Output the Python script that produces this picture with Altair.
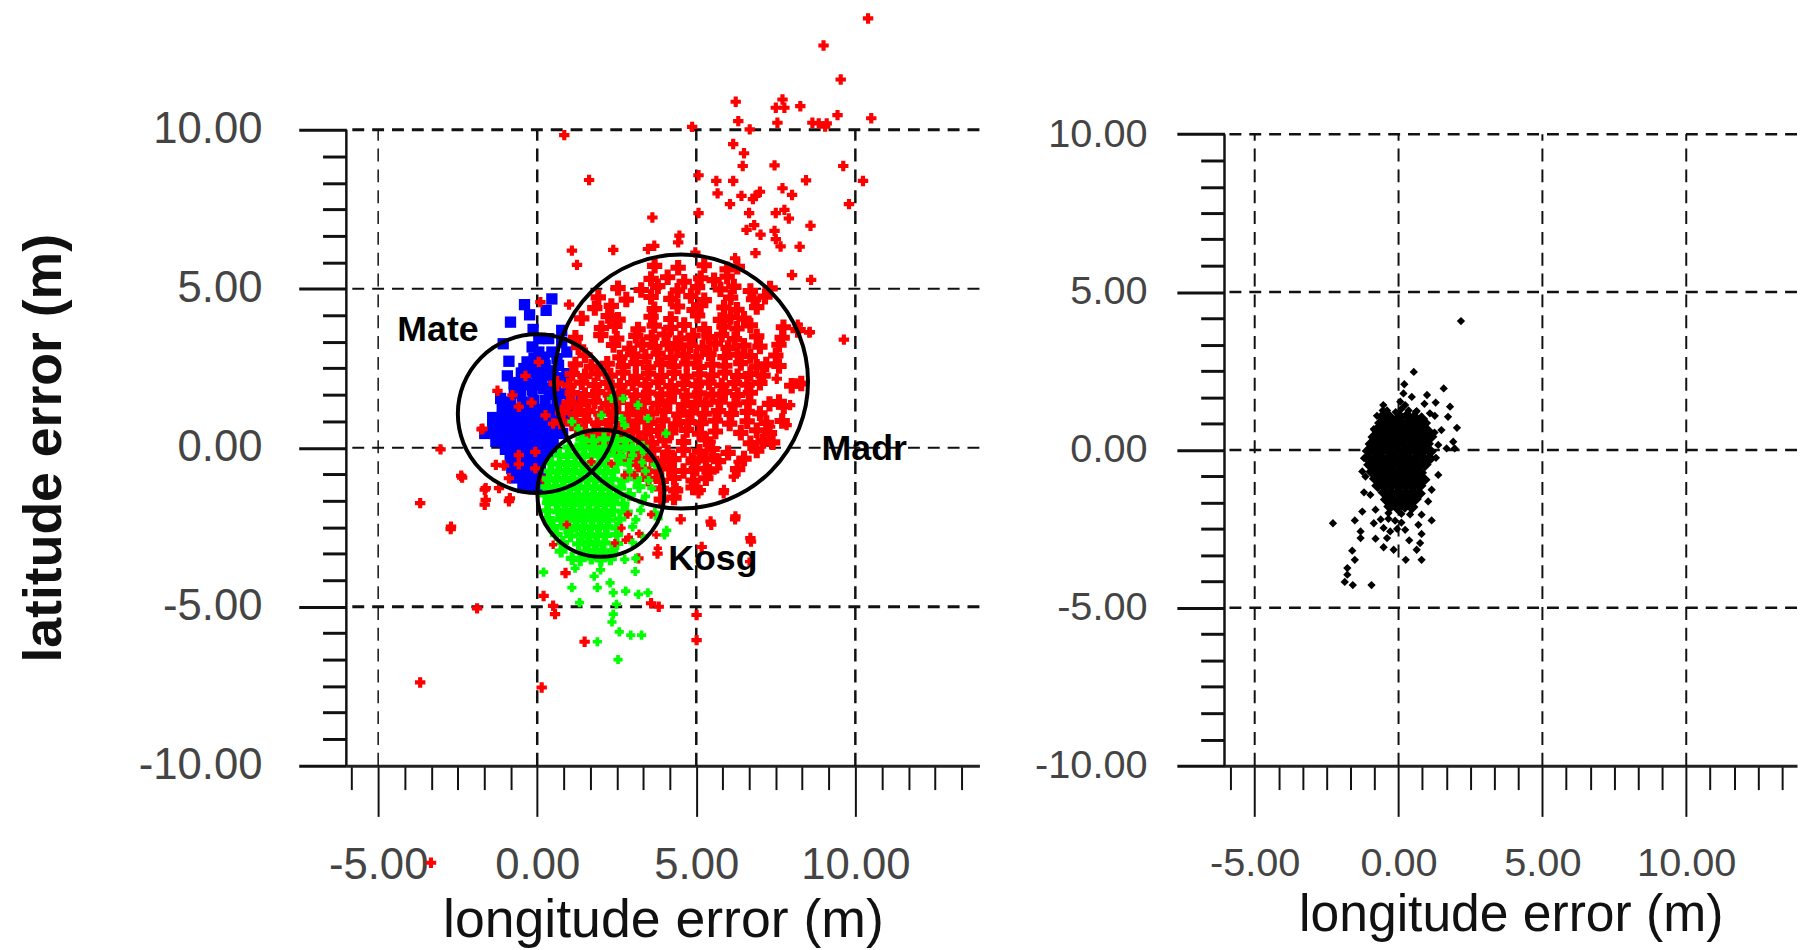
import altair as alt
import pandas as pd

# Values, metres
MAJOR = [-5, 0, 5, 10]
Y_MAJOR = [-10, -5, 0, 5, 10]
X_MINOR = [-5.83, -4.17, -3.33, -2.5, -1.67, -0.83, 0.83, 1.67, 2.5, 3.33, 4.17, 5.83, 6.67, 7.5, 8.33, 9.17, 10.83, 11.67, 12.5, 13.33]
Y_MINOR = [-9.17, -8.33, -7.5, -6.67, -5.83, -4.17, -3.33, -2.5, -1.67, -0.83, 0.83, 1.67, 2.5, 3.33, 4.17, 5.83, 6.67, 7.5, 8.33, 9.17]

STATIONS = ["Mate", "Madr", "Kosg"]
CIRCLE_X = [0.0, 4.52, 2.0]
CIRCLE_Y = [1.07, 2.08, -1.43]
CIRCLE_R = [2.5, 4.0, 2.0]
LABEL_X = [-3.12, 10.28, 5.52]
LABEL_Y = [3.7, -0.03, -3.51]

RED_OUT = [(10.4,13.5),(9.0,12.65),(9.54,11.58),(6.24,10.88),(7.71,10.95),(7.5,10.69),(7.77,10.69),(8.27,10.74),(9.44,10.46),(10.5,10.36),(6.32,10.27),(7.55,10.22),(8.65,10.22),(8.85,10.2),(9.05,10.1),(9.1,10.2),(4.87,10.09),(6.68,10.01),(0.85,9.83),(6.16,9.55),(6.5,9.26),(6.46,8.86),(7.46,8.88),(9.62,8.86),(1.63,8.42),(5.07,8.57),(5.63,8.39),(6.16,8.39),(8.45,8.41),(10.24,8.39),(5.67,8.0),(6.42,7.92),(6.86,7.92),(7.0,8.05),(6.78,7.82),(7.71,8.16),(8.01,7.95),(6.06,7.66),(9.8,7.66),(5.07,7.38),(6.66,7.38),(7.5,7.38),(7.77,7.48),(7.91,7.21),(3.62,7.24),(8.59,6.98),(6.82,7.0),(6.58,6.85),(7.02,6.7),(7.46,6.82),(7.5,6.56),(7.65,6.33),(8.25,6.32),(4.47,6.67),(4.43,6.46),(3.48,6.25),(3.68,6.35),(2.39,6.22),(1.09,6.2),(1.25,5.75),(6.86,6.12),(6.22,5.96),(4.97,6.14),(8.01,5.43),(8.61,5.28),(8.55,3.62),(8.19,3.87),(9.64,3.4),(0.1,4.58),(1.0,4.5),(-3.04,-0.05),(-1.75,0.58),(-2.39,-0.88),(-3.68,-1.74),(-2.72,-2.56),(-1.65,-1.32),(-1.65,-1.79),(-0.89,-1.68),(-1.89,-5.05),(0.2,-4.66),(0.5,-4.97),(0.56,-5.23),(0.89,-3.94),(3.58,-4.89),(3.82,-5.0),(5.01,-5.26),(5.01,-6.05),(1.49,-6.1),(-3.68,-7.38),(0.14,-7.54),(-3.34,-13.05),(5.47,-2.42),(6.22,-2.25),(4.51,-2.25),(6.72,-2.95),(5.17,-3.12),(3.18,-3.48),(3.78,-3.33),(5.86,-1.43),(5.07,-1.43),(4.37,-1.27),(0.05,2.7),(-0.37,2.26),(-0.78,1.65),(-0.58,1.29),(-0.18,1.42),(0.26,1.02),(0.5,0.76),(-1.25,1.79),(-1.72,0.6),(-0.58,-0.23),(-0.58,-0.52),(-0.06,-0.13),(-1.3,-0.54),(-1.05,-0.56),(-0.89,-0.96),(-0.06,-0.65),(-2.36,-0.94),(-1.62,-1.27),(-1.2,-1.27),(-0.86,-1.59),(-1.62,-1.64),(-2.71,-2.48),(0.2,-1.01),
(5.45,0.19),(4.83,-0.33),(5.14,-0.33),(5.35,-0.65),(5.66,-0.65),(4.93,-0.75),(5.56,-0.23),(6.33,-0.44),(6.18,-0.91),(5.87,-1.33),(5.14,-1.33),(4.93,-1.17),(7.32,0.66),(6.8,0.08),(7.25,0.19),(7.84,0.71),(7.95,1.34),(8.15,2.02),(7.53,2.17),(8.57,3.64),(7.22,2.59),(5.45,-2.32),(6.23,-2.16),(6.7,-2.84)]

RED_CORE = [(3.69,5.72),(4.43,5.66),(5.25,5.74),(5.97,5.61),(6.29,5.69),(3.58,5.31),(4.1,5.36),(4.62,5.22),(5.14,5.33),(5.56,5.27),(5.97,5.38),
(2.54,5.02),(3.27,4.96),(3.79,5.08),(4.41,4.94),(5.04,5.05),(5.76,4.98),(6.18,5.07),(6.7,4.93),(7.32,5.01),
(1.92,4.73),(2.8,4.66),(3.58,4.74),(4.2,4.68),(4.83,4.77),(5.25,4.64),(6.08,4.72),(6.8,4.67),(7.16,4.75),
(1.81,4.39),(2.33,4.46),(3.68,4.36),(4.41,4.44),(4.93,4.33),(5.14,4.48),(5.87,4.41),(6.28,4.34),(6.9,4.42),
(1.4,4.07),(2.23,4.14),(2.54,4.03),(3.58,4.12),(4.2,4.05),(5.04,4.16),(5.76,4.02),(6.08,4.11),(6.5,4.06),
(2.02,3.76),(2.44,3.83),(3.17,3.72),(3.68,3.84),(4.2,3.77),(4.62,3.86),(5.25,3.73),(5.87,3.81),(6.28,3.75),(6.7,3.85),(7.74,3.79),(8.2,3.7),
(1.2,3.46),(2.0,3.54),(2.5,3.43),(3.1,3.52),(3.6,3.47),(4.0,3.56),(4.5,3.44),(4.9,3.53),(5.4,3.48),(5.8,3.55),(6.2,3.42),(6.9,3.5),(7.7,3.46),
(1.3,3.16),(2.4,3.23),(2.9,3.12),(3.3,3.24),(3.7,3.17),(4.1,3.26),(4.4,3.13),(4.8,3.22),(5.2,3.15),(5.6,3.27),(6.0,3.14),(6.5,3.21),(7.0,3.18),(7.6,3.24),
(1.5,2.91),(2.6,2.84),(3.0,2.94),(3.4,2.87),(3.8,2.96),(4.2,2.83),(4.6,2.92),(5.0,2.86),(5.4,2.95),(5.9,2.85),(6.3,2.93),(6.7,2.88),(7.5,2.9),
(1.2,2.62),(1.7,2.55),(2.2,2.64),(2.7,2.57),(3.1,2.66),(3.5,2.53),(3.9,2.63),(4.3,2.56),(4.7,2.65),(5.1,2.54),(5.5,2.61),(5.9,2.58),(6.4,2.66),(6.9,2.55),(7.2,2.62),(7.6,2.57),
(1.1,2.32),(1.5,2.25),(1.9,2.34),(2.3,2.27),(2.7,2.36),(3.1,2.23),(3.5,2.33),(3.9,2.26),(4.3,2.35),(4.7,2.24),(5.1,2.31),(5.5,2.28),(5.9,2.36),(6.3,2.25),(6.7,2.32),(7.1,2.27),
(0.6,2.02),(1.0,1.96),(1.4,2.05),(1.8,1.97),(2.2,2.04),(2.6,1.95),(3.0,2.03),(3.4,1.98),(3.8,2.06),(4.2,1.94),(4.6,2.01),(5.0,1.97),(5.4,2.05),(5.8,1.96),(6.2,2.03),(6.6,1.98),(7.0,2.04),(8.0,1.95),(8.3,2.02),
(1.1,1.72),(1.5,1.66),(1.9,1.75),(2.3,1.67),(2.7,1.74),(3.1,1.65),(3.5,1.73),(3.9,1.68),(4.3,1.76),(4.7,1.64),(5.1,1.71),(5.5,1.67),(5.9,1.75),(6.3,1.66),(6.7,1.73),
(1.0,1.42),(1.35,1.36),(1.8,1.45),(2.2,1.37),(2.55,1.44),(3.0,1.35),(3.35,1.43),(3.8,1.38),(4.15,1.46),(4.6,1.34),(5.0,1.41),(5.3,1.37),(5.75,1.45),(6.2,1.36),(6.65,1.43),(7.3,1.38),(7.6,1.44),
(0.8,1.12),(1.2,1.06),(1.6,1.15),(2.0,1.07),(2.4,1.14),(2.85,1.05),(3.25,1.13),(3.6,1.08),(4.0,1.16),(4.45,1.04),(4.85,1.11),(5.25,1.07),(5.7,1.15),(6.1,1.06),(6.6,1.13),(7.0,1.08),(7.75,1.3),
(0.75,0.82),(1.1,0.76),(1.5,0.85),(1.9,0.77),(2.3,0.84),(2.7,0.75),(3.15,0.83),(3.55,0.78),(3.95,0.86),(4.35,0.74),(4.75,0.81),(5.15,0.77),(5.6,0.85),(6.05,0.76),(6.6,0.83),(7.2,0.78),(7.7,0.84),
(1.4,0.52),(1.8,0.46),(2.2,0.55),(2.6,0.47),(3.0,0.54),(3.4,0.45),(3.8,0.53),(4.2,0.48),(4.7,0.56),(5.1,0.44),(5.6,0.51),(6.4,0.47),(6.9,0.55),(7.3,0.46),
(1.6,0.22),(2.0,0.16),(2.4,0.25),(2.8,0.17),(3.2,0.24),(3.6,0.15),(4.0,0.23),(4.6,0.18),(5.3,0.26),(6.7,0.14),(7.1,0.21),(7.4,0.17),
(2.1,-0.08),(2.5,-0.14),(2.95,-0.05),(3.3,-0.13),(3.65,-0.06),(4.1,-0.15),(4.6,-0.07),(5.1,-0.12),(5.5,-0.04),(6.0,-0.16),(6.9,-0.09),
(2.9,-0.38),(3.2,-0.44),(3.6,-0.35),(3.95,-0.43),(4.3,-0.36),(4.9,-0.45),(5.3,-0.37),(5.7,-0.42),(6.5,-0.34),
(3.35,-0.68),(3.75,-0.74),(4.15,-0.65),(4.6,-0.73),(5.0,-0.66),(5.4,-0.75),(6.3,-0.67),
(3.5,-0.98),(3.9,-1.04),(4.3,-0.95),(4.9,-1.03),(5.3,-0.96),(3.9,-1.28),(4.35,-1.34),(4.9,-1.25),(3.9,-1.63),(4.3,-1.57)]

BLUE = [(-0.4,4.5),(-0.24,4.18),(0.46,4.68),(0.28,4.32),(-0.84,3.95),(-0.13,3.72),(0.77,3.69),(-1.07,3.27),(-0.16,3.17),(0.05,3.43),(0.36,3.43),(0.77,3.32),(0.93,3.01),(-0.89,2.72),(-0.32,2.7),(0.05,3.01),(0.46,3.01),(-0.94,2.26),(-0.42,2.49),(-0.11,2.59),(0.25,2.59),(0.67,2.59),(0.93,2.33),(-0.73,2.02),(-0.37,2.12),(-0.01,2.17),(0.36,2.28),(0.72,2.12),(-0.53,1.76),(-0.16,1.81),(0.2,1.86),(0.57,1.81),(-1.15,1.55),(-0.84,1.44),(-0.47,1.44),(-0.11,1.49),(0.25,1.49),(0.62,1.55),(1.03,1.55),(1.4,1.6),
(-0.1,2.82),(0.22,2.85),(0.62,2.8),(-0.5,2.35),(-0.2,2.38),(0.12,2.4),(0.5,2.42),(0.8,2.2),(-0.58,2.05),(-0.2,1.98),(0.15,2.05),(0.52,2.02),(-0.72,1.72),(0.38,1.68),(0.82,1.7),
(-1.1,1.2),(-0.8,1.2),(-0.5,1.2),(-0.2,1.2),(0.1,1.2),(0.4,1.2),(0.7,1.2),(1.05,1.2),(-1.4,0.95),(-1.1,0.95),(-0.8,0.95),(-0.5,0.95),(-0.2,0.95),(0.1,0.95),(0.4,0.95),(0.7,0.95),(1.05,0.95),
(-1.4,0.7),(-1.1,0.7),(-0.8,0.7),(-0.5,0.7),(-0.2,0.7),(0.1,0.7),(0.4,0.7),(0.7,0.7),(-1.65,0.45),(-1.35,0.45),(-1.05,0.45),(-0.75,0.45),(-0.45,0.45),(-0.15,0.45),(0.15,0.45),(0.45,0.45),(0.8,0.45),
(-1.3,0.2),(-1.0,0.2),(-0.7,0.2),(-0.4,0.2),(-0.1,0.2),(0.2,0.2),(0.5,0.2),(-1.0,-0.05),(-0.7,-0.05),(-0.4,-0.05),(-0.1,-0.05),(0.2,-0.05),(0.45,-0.05),
(-0.85,-0.35),(-0.55,-0.35),(-0.25,-0.35),(0.05,-0.35),(0.35,-0.35),(-0.8,-0.65),(-0.5,-0.65),(-0.2,-0.65),(0.1,-0.65),(-0.7,-0.95),(-0.4,-0.95),(-0.1,-0.95),(0.1,-0.95),(-0.45,-1.25),(-0.2,-1.25),(0.0,-1.25)]

GREEN_OUT = [(2.33,1.55),(2.7,1.55),(3.17,1.34),(2.02,1.02),(2.65,0.92),(3.48,0.92),(1.09,0.82),(4.05,0.45),(1.29,0.6),(2.75,0.71),
(0.2,-3.91),(1.19,-3.79),(1.99,-3.84),(3.08,-3.89),(1.09,-4.4),(1.79,-4.04),(2.29,-4.25),(1.89,-4.4),(2.39,-4.56),(2.78,-4.51),(3.48,-4.56),(3.18,-4.61),(1.33,-4.87),(2.49,-4.92),(2.39,-5.23),(2.35,-5.48),(2.58,-5.79),(2.94,-5.89),(3.28,-5.89),(1.89,-6.1),(2.54,-6.66),
(3.0,-0.24),(3.4,-0.26),(3.3,-0.47),(3.7,-0.53),(3.4,-0.73),(3.5,-1.03),(3.6,-1.28),(3.4,-1.53),(3.3,-1.72),(3.25,-1.97),(3.7,-2.03),(3.1,-2.26),(3.8,-2.23),(3.0,-2.49),(4.07,-2.6),(3.3,-2.78),(4.0,-2.74),(3.0,-2.98),(2.75,-3.51),(3.1,-3.48)]

GREEN_CORE = [(1.4,0.27),(1.75,0.22),(2.1,0.28),(2.5,0.23),(2.8,0.26),(1.0,0.02),(1.25,-0.03),(1.5,0.03),(1.8,-0.02),(2.1,0.01),(2.4,-0.04),(2.75,0.02),(3.0,-0.03),(3.3,0.01),
(0.7,-0.23),(0.95,-0.27),(1.2,-0.22),(1.45,-0.28),(1.7,-0.24),(1.95,-0.26),(2.2,-0.23),(2.6,-0.28),
(0.45,-0.48),(0.7,-0.52),(0.95,-0.47),(1.2,-0.53),(1.45,-0.49),(1.7,-0.51),(1.95,-0.48),(2.2,-0.53),(2.5,-0.49),(2.9,-0.52),
(0.4,-0.73),(0.65,-0.77),(0.9,-0.72),(1.15,-0.78),(1.4,-0.74),(1.65,-0.76),(1.9,-0.73),(2.15,-0.78),(2.4,-0.74),(2.9,-0.76),
(0.35,-0.98),(0.6,-1.02),(0.85,-0.97),(1.1,-1.03),(1.35,-0.99),(1.6,-1.01),(1.85,-0.98),(2.1,-1.03),(2.35,-0.99),(2.7,-1.02),(3.1,-0.97),
(0.3,-1.23),(0.55,-1.27),(0.8,-1.22),(1.05,-1.28),(1.3,-1.24),(1.55,-1.26),(1.8,-1.23),(2.05,-1.28),(2.3,-1.24),(2.6,-1.27),(3.2,-1.22),
(0.25,-1.48),(0.5,-1.52),(0.75,-1.47),(1.0,-1.53),(1.25,-1.49),(1.5,-1.51),(1.75,-1.48),(2.0,-1.53),(2.25,-1.49),(2.5,-1.52),(2.9,-1.47),
(0.35,-1.73),(0.6,-1.77),(0.85,-1.72),(1.1,-1.78),(1.35,-1.74),(1.6,-1.76),(1.85,-1.73),(2.1,-1.78),(2.35,-1.74),(2.7,-1.77),
(0.3,-1.98),(0.65,-2.02),(0.9,-1.97),(1.15,-2.03),(1.4,-1.99),(1.65,-2.01),(1.9,-1.98),(2.15,-2.03),(2.4,-1.99),(2.8,-2.02),
(0.35,-2.23),(0.75,-2.27),(1.0,-2.22),(1.25,-2.28),(1.5,-2.24),(1.75,-2.26),(2.0,-2.23),(2.25,-2.28),(2.6,-2.24),
(0.5,-2.48),(0.9,-2.52),(1.2,-2.47),(1.45,-2.53),(1.7,-2.49),(1.95,-2.51),(2.2,-2.48),(2.5,-2.53),
(0.6,-2.73),(1.05,-2.77),(1.4,-2.72),(1.65,-2.78),(1.9,-2.74),(2.15,-2.76),(2.5,-2.73),
(0.8,-2.98),(1.3,-3.02),(1.6,-2.97),(1.85,-3.03),(2.1,-2.99),(2.5,-3.01),(0.75,-3.25),(1.5,-3.27),(1.8,-3.22),(2.05,-3.28),(2.35,-3.24),
(1.1,-3.48),(1.35,-3.52),(1.7,-3.47),(2.0,-3.53),(2.3,-3.49)]

RED_TOP = [(1.7,-0.44),(2.33,-0.5),(2.75,-0.86),(3.06,-0.86),(2.85,-2.1),(2.65,-2.53),(2.44,-3.0),(0.5,-3.05),(0.93,-2.42),(3.58,-2.1),(3.74,-2.74),(3.79,-3.16),(6.66,-3.58),(2.88,-2.81),(2.78,-2.9),(3.2,-2.7),(3.45,-0.3),(3.1,-0.55)]

BLACK_OUT = [(2.17,4.08),(0.53,2.47),(0.2,2.08),(1.57,1.95),(0.99,1.74),(0.9,1.46),(1.29,1.5),(1.79,1.37),(-0.53,1.42),(0.17,1.79),(0.46,1.68),(0.06,1.53),(0.23,1.42),(0.63,1.23),(1.09,1.16),(1.26,1.08),(1.72,1.05),(2.03,0.7),(1.49,0.63),(1.9,0.26),(1.95,0.05),(1.67,0.05),(1.38,0.16),(-0.75,1.08),(-0.86,0.66),(-0.92,0.26),(-1.2,-0.26),(-1.26,-0.68),(-1.15,-0.84),(1.38,-0.79),(1.15,-1.26),(1.03,-1.63),(-1.2,-1.34),(-0.98,-1.42),(-1.26,-1.95),(-0.8,-1.89),(-1.52,-2.23),(-2.28,-2.32),(1.15,-2.23),(0.8,-2.05),(0.69,-2.37),(-0.86,-2.32),(-1.32,-2.58),(-1.32,-2.79),(-0.8,-2.81),(-0.52,-2.47),(-0.4,-2.79),(-0.52,-3.08),(-0.17,-3.16),(-0.29,-2.58),(0.23,-2.53),(0.37,-2.86),(0.8,-2.66),(0.75,-2.95),(0.63,-3.16),(-1.61,-3.19),(-1.52,-3.48),(0.25,-3.48),(0.8,-3.48),(-1.78,-3.74),(-1.78,-3.95),(-1.87,-4.18),(-1.59,-4.28),(-0.94,-4.28),
(-0.4,1.25),(-0.1,1.2),(0.1,1.3),(0.35,1.25),(0.6,1.2),(-0.55,1.25),(-0.35,-2.0),(0.1,-2.02),(0.4,-2.04),(-0.62,-2.2),(-0.35,-2.18),(-0.12,-2.24),(0.1,-2.3),(-0.05,-2.5),(1.25,0.55),(1.3,-0.25)]

BLACK_CORE = [(-0.55,1.06),(-0.3,1.02),(0.3,1.08),(0.55,1.03),(0.8,0.98),(0.05,1.05),
(-0.62,0.85),(-0.38,0.82),(-0.12,0.86),(0.12,0.83),(0.38,0.87),(0.64,0.82),(0.9,0.85),
(-0.75,0.63),(-0.5,0.6),(-0.25,0.64),(0.0,0.61),(0.25,0.65),(0.5,0.6),(0.75,0.63),(1.0,0.6),
(-0.85,0.41),(-0.62,0.38),(-0.38,0.42),(-0.12,0.39),(0.12,0.43),(0.38,0.38),(0.62,0.41),(0.88,0.38),(1.12,0.42),
(-0.95,0.19),(-0.72,0.16),(-0.48,0.2),(-0.25,0.17),(0.0,0.21),(0.25,0.16),(0.5,0.19),(0.75,0.16),(1.0,0.2),
(-1.05,-0.03),(-0.82,-0.06),(-0.58,-0.02),(-0.34,-0.05),(-0.1,-0.01),(0.14,-0.06),(0.38,-0.03),(0.62,-0.06),(0.86,-0.02),(1.1,-0.05),
(-1.08,-0.25),(-0.84,-0.28),(-0.6,-0.24),(-0.36,-0.27),(-0.12,-0.23),(0.12,-0.28),(0.36,-0.25),(0.6,-0.28),(0.84,-0.24),(1.08,-0.27),
(-1.0,-0.47),(-0.76,-0.5),(-0.52,-0.46),(-0.28,-0.49),(-0.04,-0.45),(0.2,-0.5),(0.44,-0.47),(0.68,-0.5),(0.92,-0.46),
(-0.92,-0.69),(-0.68,-0.72),(-0.44,-0.68),(-0.2,-0.71),(0.04,-0.67),(0.28,-0.72),(0.52,-0.69),(0.76,-0.72),
(-0.8,-0.91),(-0.56,-0.94),(-0.32,-0.9),(-0.08,-0.93),(0.16,-0.89),(0.4,-0.94),(0.64,-0.91),(0.88,-0.94),
(-0.72,-1.13),(-0.46,-1.16),(-0.22,-1.12),(0.02,-1.15),(0.26,-1.11),(0.5,-1.16),(0.74,-1.13),
(-0.5,-1.35),(-0.26,-1.38),(0.0,-1.34),(0.24,-1.37),(0.48,-1.33),(0.72,-1.38),
(-0.42,-1.57),(-0.16,-1.6),(0.1,-1.56),(0.34,-1.59),(0.58,-1.55),(-0.3,-1.79),(-0.04,-1.82),(0.22,-1.78),(0.46,-1.81)]

TEXT = "#444444"
FONT = "Liberation Sans"


def pts(rows):
    return pd.DataFrame(rows, columns=["x", "y"])


def panel(sets, xdom, ydom, w, label_size, title_size, y_title, grid_x, grid_y, ylab_pad, gx, gy, extra=None):
    sx = alt.Scale(domain=xdom, nice=False, zero=False)
    sy = alt.Scale(domain=ydom, nice=False, zero=False)
    X = lambda **k: alt.X("x:Q", scale=sx, **k)
    Y = lambda **k: alt.Y("y:Q", scale=sy, **k)
    lab = "(datum.value<0?'-':'')+format(abs(datum.value),'.2f')"
    layers = []

    minor = pts([(v, 0) for v in X_MINOR])
    layers.append(alt.Chart(minor).mark_point(opacity=0).encode(
        x=X(axis=alt.Axis(orient="bottom", values=X_MINOR, tickSize=24, tickWidth=2, tickColor="#111", labels=False, domain=False, title=None, grid=False)),
        y=Y(axis=alt.Axis(orient="left", values=Y_MINOR, tickSize=24, tickWidth=3, tickColor="#111", labels=False, domain=False, title=None, grid=False)),
    ))
    layers.append(alt.Chart(minor).mark_point(opacity=0).encode(
        x=X(axis=alt.Axis(orient="bottom", values=MAJOR, tickSize=51, tickWidth=2, tickColor="#111", domainWidth=3, domainColor="#222",
                          labelExpr=lab, labelFont=FONT, labelFontSize=label_size, labelColor=TEXT, labelPadding=28, labelFlush=False, labelOverlap=False,
                          title="longitude error (m)", titleFont=FONT, titleFontSize=title_size, titleFontWeight="normal", titleColor="#111", titlePadding=gx, grid=False)),
        y=Y(axis=alt.Axis(orient="left", values=Y_MAJOR, tickSize=48, tickWidth=3, tickColor="#111", domain=False,
                          labelExpr=lab, labelFont=FONT, labelFontSize=label_size, labelColor=TEXT, labelPadding=ylab_pad, labelFlush=False, labelOverlap=False,
                          title=y_title, titleFont=FONT, titleFontSize=54, titleFontWeight="bold", titleColor="#111", titlePadding=gy, grid=False)),
    ))

    ax = pd.DataFrame({"x": [xdom[0]], "lo": [-10], "hi": [10]})
    layers.append(alt.Chart(ax).mark_rule(color="#111", strokeWidth=2.5).encode(
        x=X(axis=None), y=alt.Y("lo:Q", scale=sy, axis=None), y2="hi:Q"))
    for vals, width in grid_x:
        g = pd.DataFrame({"x": vals, "lo": -10, "hi": 10})
        layers.append(alt.Chart(g).mark_rule(color="#111", strokeWidth=width, strokeDash=[13, 8]).encode(
            x=X(axis=None), y=alt.Y("lo:Q", scale=sy, axis=None), y2="hi:Q"))
    for vals, width in grid_y:
        g = pd.DataFrame({"y": vals})
        layers.append(alt.Chart(g).mark_rule(color="#111", strokeWidth=width, strokeDash=[12, 8]).encode(y=Y(axis=None)))

    for rows, shape, size, color in sets:
        layers.append(alt.Chart(pts(rows)).mark_point(shape=shape, size=size, filled=True, opacity=1, strokeWidth=0, color=color).encode(
            x=X(axis=None), y=Y(axis=None)))
    if extra:
        layers += extra(sx, sy)
    return alt.layer(*layers).resolve_axis(x="independent", y="independent").properties(width=w, height=641)


def annotations(sx, sy):
    circ = pd.DataFrame({"x": CIRCLE_X, "y": CIRCLE_Y, "r": CIRCLE_R})
    txt = pd.DataFrame({"x": LABEL_X, "y": LABEL_Y, "t": STATIONS})
    c = alt.Chart(circ).transform_calculate(area="datum.r*datum.r").mark_point(shape="circle", filled=False, color="black", strokeWidth=4, opacity=1).encode(
        x=alt.X("x:Q", scale=sx, axis=None), y=alt.Y("y:Q", scale=sy, axis=None),
        size=alt.Size("area:Q", scale=alt.Scale(domain=[0, 16], range=[0, 65536]), legend=None))
    t = alt.Chart(txt).mark_text(font=FONT, fontWeight="bold", fontSize=36, color="black").encode(
        x=alt.X("x:Q", scale=sx, axis=None), y=alt.Y("y:Q", scale=sy, axis=None), text="t:N")
    return [c, t]


left = panel(
    [(BLUE, "square", 130, "#0000ff"), (RED_OUT, "cross", 110, "#ff0000"), (RED_CORE, "cross", 240, "#ff0000"),
     (GREEN_OUT, "cross", 85, "#00ff00"), (GREEN_CORE, "cross", 170, "#00ff00"), (RED_TOP, "cross", 70, "#ff0000")],
    [-6, 13.9], [-10, 10], 638, 44, 54, "latitude error (m)",
    [([-5], 1.5), ([0, 5, 10], 2.5)], [([5, 0], 2), ([10, -5], 3)], 37, 6, 77, annotations)

right = panel(
    [(BLACK_OUT, "diamond", 70, "#000000"), (BLACK_CORE, "diamond", 180, "#000000")],
    [-6.05, 13.85], [-10, 10.14], 577, 40, 52, None,
    [([-5, 0, 5, 10], 2)], [([10, 5, 0, -5], 2.5)], 30, 6, 30)

chart = alt.hconcat(left, right, spacing=247, bounds="flush", padding={"left": 10, "top": 1, "right": 0, "bottom": 0}).configure_view(stroke=None)
chart.save("out.html", embed_options={"renderer": "svg", "actions": False})
